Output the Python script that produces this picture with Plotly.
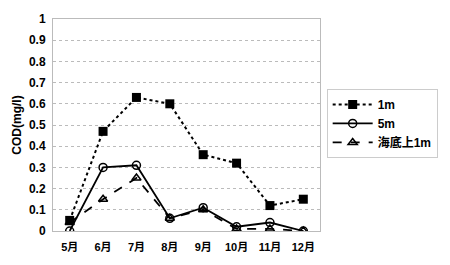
import plotly.graph_objects as go

months = ["5月", "6月", "7月", "8月", "9月", "10月", "11月", "12月"]
v_1m = [0.05, 0.47, 0.63, 0.60, 0.36, 0.32, 0.12, 0.15]
v_5m = [0.00, 0.30, 0.31, 0.06, 0.11, 0.02, 0.04, 0.00]
v_bottom = [0.04, 0.15, 0.25, 0.06, 0.10, 0.01, 0.01, 0.00]
y_ticks = [0, 0.1, 0.2, 0.3, 0.4, 0.5, 0.6, 0.7, 0.8, 0.9, 1]
y_labels = ["0", "0.1", "0.2", "0.3", "0.4", "0.5", "0.6", "0.7", "0.8", "0.9", "1"]

font_fam = "Liberation Sans, Noto Sans CJK JP, sans-serif"

fig = go.Figure()
fig.add_trace(go.Scatter(
    x=months, y=v_1m, name="1m", mode="lines+markers",
    line=dict(color="black", width=2, dash="dot"),
    marker=dict(symbol="square", size=9, color="black"),
))
fig.add_trace(go.Scatter(
    x=months, y=v_5m, name="5m", mode="lines+markers",
    line=dict(color="black", width=1.8),
    marker=dict(symbol="circle-open", size=8, color="black", line=dict(width=1.5)),
))
fig.add_trace(go.Scatter(
    x=months, y=v_bottom, name="海底上1m", mode="lines+markers",
    line=dict(color="black", width=1.8, dash="dash"),
    marker=dict(symbol="triangle-up-open", size=8, color="black", line=dict(width=1.5)),
))

fig.update_layout(
    width=450, height=265,
    margin=dict(l=53, r=122, t=12, b=34),
    paper_bgcolor="white", plot_bgcolor="white",
    font=dict(family=font_fam, size=11, color="black"),
    showlegend=True,
    legend=dict(
        x=1.025, y=0.67, xanchor="left", yanchor="top",
        bordercolor="#cccccc", borderwidth=1,
        font=dict(size=12, family=font_fam, weight="bold"),
        tracegroupgap=0, itemwidth=40,
    ),
    xaxis=dict(
        type="category", showgrid=False, showline=True, linecolor="#bbbbbb",
        mirror=True, ticks="", tickfont=dict(size=11, family=font_fam, weight="bold"),
        range=[-0.5, 7.5], ticklabelstandoff=6,
    ),
    yaxis=dict(
        range=[0, 1], tickvals=y_ticks, ticktext=y_labels,
        showgrid=True, gridcolor="#bbbbbb", griddash="dot", gridwidth=1,
        showline=True, linecolor="#bbbbbb", mirror=True, zeroline=False,
        ticks="", tickfont=dict(size=12, family=font_fam, weight="bold"),
        ticklabelstandoff=4,
        title=dict(text="COD(mg/l)", font=dict(size=12, family=font_fam, weight="bold"), standoff=4),
    ),
)

fig.write_html("out.html")
